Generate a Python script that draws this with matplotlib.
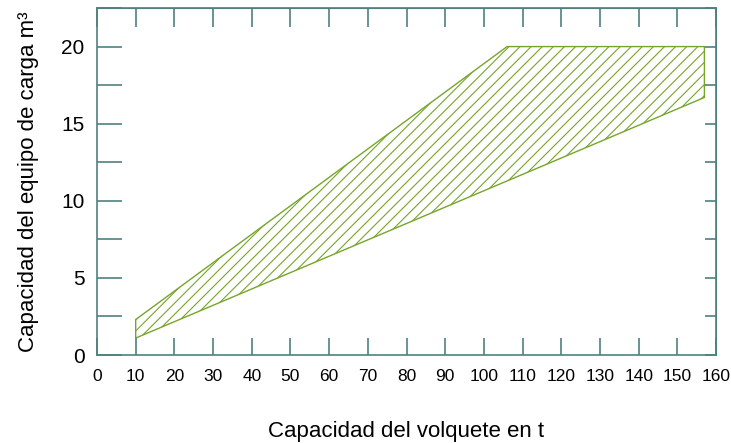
import numpy as np
import matplotlib.pyplot as plt
from matplotlib.ticker import MultipleLocator

plt.rcParams['font.family'] = ['Liberation Sans', 'DejaVu Sans']

# outline of the hatched region (truck capacity vs loader capacity)
truck_t = [10, 106, 157, 157, 10]
loader_m3 = [2.3, 20, 20, 16.7, 1.1]

frame = '#4f8080'
green = '#76a52a'

fig = plt.figure(figsize=(7.31, 4.43), dpi=100)
ax = fig.add_axes([0.1327, 0.1986, 0.8468, 0.7833])

plt.rcParams['hatch.color'] = green
plt.rcParams['hatch.linewidth'] = 0.8
ax.fill(truck_t, loader_m3, facecolor='none', edgecolor=green, hatch='///', linewidth=1.0)

ax.set_xlim(0, 160)
ax.set_ylim(0, 22.5)
ax.xaxis.set_major_locator(MultipleLocator(10))
ax.yaxis.set_major_locator(MultipleLocator(5))
ax.yaxis.set_minor_locator(MultipleLocator(2.5))

for s in ax.spines.values():
    s.set_color(frame)
    s.set_linewidth(1.2)

ax.tick_params(axis='x', direction='in', length=12, width=1.2, color=frame, labelsize=12.5, pad=10)
ax.tick_params(axis='y', which='both', direction='in', length=18, width=1.2, color=frame, labelsize=15, pad=9)

# top and right ticks are shorter
top = ax.secondary_xaxis('top')
top.xaxis.set_major_locator(MultipleLocator(10))
top.tick_params(direction='in', length=14, width=1.2, color=frame, labeltop=False)
top.spines['top'].set_color(frame)
right = ax.secondary_yaxis('right')
right.yaxis.set_major_locator(MultipleLocator(5))
right.yaxis.set_minor_locator(MultipleLocator(2.5))
right.tick_params(which='both', direction='in', length=8, width=1.2, color=frame, labelright=False)
right.spines['right'].set_color(frame)

ax.set_xlabel('Capacidad del volquete en t', fontsize=16, labelpad=27)
ax.set_ylabel('Capacidad del equipo de carga m³', fontsize=16, labelpad=16)

fig.savefig('out.png', dpi=100)
